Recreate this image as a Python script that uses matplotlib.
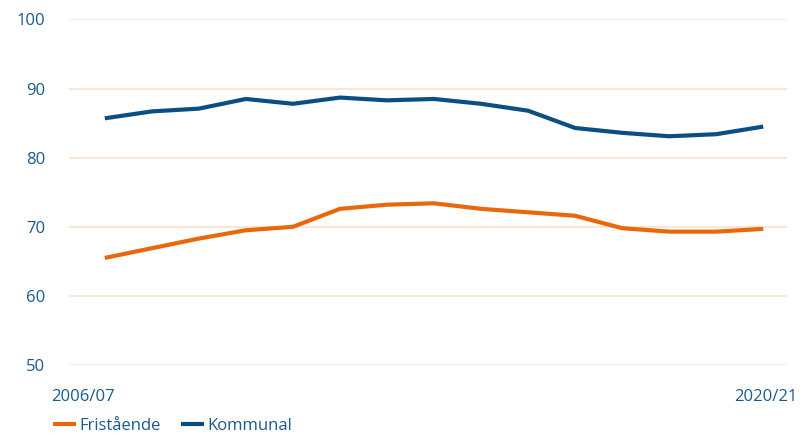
import numpy as np
import matplotlib
matplotlib.use("Agg")
import matplotlib.pyplot as plt

# ── Data ─────────────────────────────────────────────────────────
years = ["2006/07", "2007/08", "2008/09", "2009/10", "2010/11", "2011/12", "2012/13",
         "2013/14", "2014/15", "2015/16", "2016/17", "2017/18", "2018/19", "2019/20", "2020/21"]
fristaende = [65.5, 66.9, 68.3, 69.5, 70.0, 72.6, 73.2, 73.4, 72.6, 72.1, 71.6, 69.8, 69.3, 69.3, 69.7]
kommunal   = [85.7, 86.7, 87.1, 88.5, 87.8, 88.7, 88.3, 88.5, 87.8, 86.8, 84.3, 83.6, 83.1, 83.4, 84.5]
y_ticks = [50, 60, 70, 80, 90, 100]

ORANGE = "#e9680c"
BLUE   = "#0b4f82"
TEXT_C = "#1b5a8c"
GRID_C = "#f9e2d2"

plt.rcParams["font.family"] = ["Open Sans", "DejaVu Sans"]

fig = plt.figure(figsize=(8, 4.33), dpi=100)
ax = fig.add_axes([0.086, 0.157, 0.898, 0.798])

x = np.arange(len(years))
ax.plot(x, fristaende, color=ORANGE, linewidth=3, label="Fristående", solid_capstyle="butt")
ax.plot(x, kommunal, color=BLUE, linewidth=3, label="Kommunal", solid_capstyle="butt")

ax.set_ylim(50, 100)
ax.set_xlim(-0.766, 14.51)
ax.set_yticks(y_ticks)
ax.set_yticklabels([str(v) for v in y_ticks])
ax.tick_params(axis="y", length=0, pad=17, labelsize=12, labelcolor=TEXT_C)
ax.set_xticks([])
ax.grid(True, axis="y", color=GRID_C, linewidth=1.2)
ax.set_axisbelow(True)
for s in ax.spines.values():
    s.set_visible(False)

# first / last period labels
ax.text(-0.024, -0.07, years[0], transform=ax.transAxes, ha="left", va="top",
        fontsize=12, color=TEXT_C)
ax.text(1.014, -0.07, years[-1], transform=ax.transAxes, ha="right", va="top",
        fontsize=12, color=TEXT_C)

fig.legend(loc="lower left", bbox_to_anchor=(0.058, -0.018), ncol=2, frameon=False,
           fontsize=12, labelcolor=TEXT_C, handlelength=1.4, handletextpad=0.2,
           columnspacing=1.2, borderaxespad=0)

plt.savefig("out.png", dpi=100)
